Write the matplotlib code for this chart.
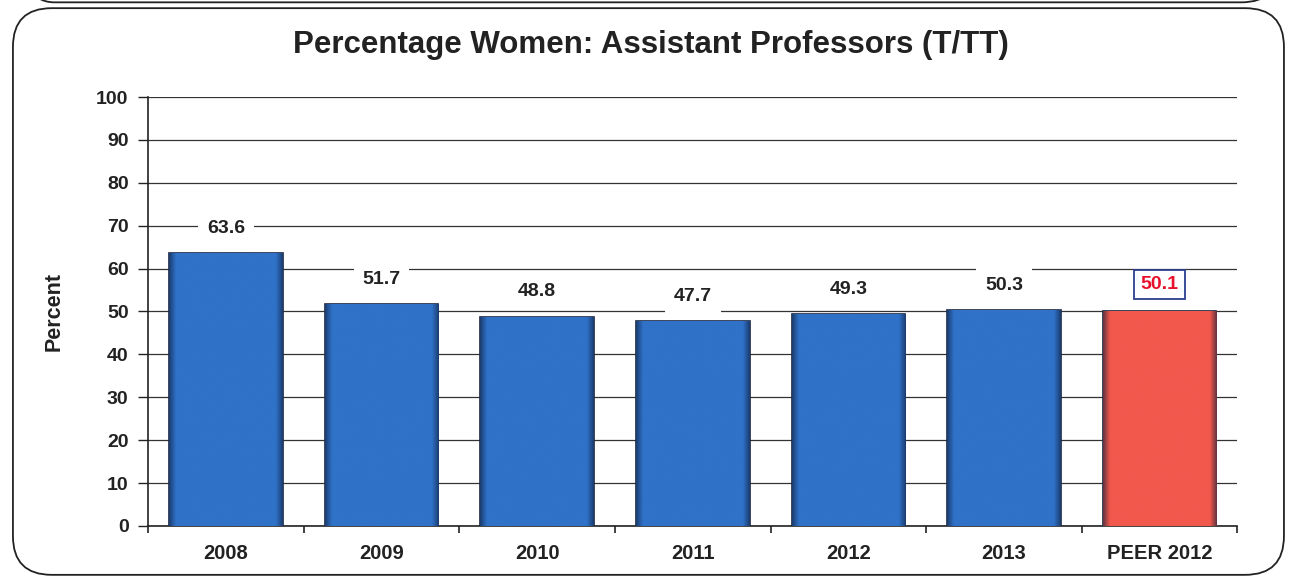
import matplotlib
matplotlib.use("Agg")
import matplotlib.pyplot as plt
from matplotlib.patches import FancyBboxPatch
from matplotlib.colors import LinearSegmentedColormap
import numpy as np

categories = ["2008", "2009", "2010", "2011", "2012", "2013", "PEER 2012"]
values = [63.6, 51.7, 48.8, 47.7, 49.3, 50.3, 50.1]
colors = ["#2F72C8"] * 6 + ["#F2584C"]
yticks = [0, 10, 20, 30, 40, 50, 60, 70, 80, 90, 100]

plt.rcParams['font.family'] = ['Liberation Sans', 'DejaVu Sans']

fig = plt.figure(figsize=(12.93, 5.83), dpi=100)
ax = fig.add_axes([0.1145, 0.0978, 0.8425, 0.7358])

# rounded frame
frame = FancyBboxPatch((0.010, 0.014), 0.983, 0.972, boxstyle="round,pad=0,rounding_size=0.03",
                       transform=fig.transFigure, fill=False, edgecolor="#222222", linewidth=1.3,
                       mutation_aspect=1293/583)
fig.patches.append(frame)
top_frame = FancyBboxPatch((0.012, 0.996), 0.978, 0.2, boxstyle="round,pad=0,rounding_size=0.03",
                           transform=fig.transFigure, fill=False, edgecolor="#222222", linewidth=1.3,
                           mutation_aspect=1293/583, clip_on=False)
fig.patches.append(top_frame)

x = np.arange(len(categories))
ax.set_axisbelow(True)
ax.yaxis.grid(True, color="#333333", linewidth=0.9)
bars = ax.bar(x, values, width=0.73, color=colors, edgecolor="#1a2540", linewidth=1.2, zorder=3)

# bevel-like shading inside each bar
grad = np.linspace(0, 1, 200)
prof = np.clip(np.minimum(grad, 1 - grad) / 0.06, 0, 1)
for b, c in zip(bars, colors):
    cmap = LinearSegmentedColormap.from_list("s", ["#0f1e3a", c])
    x0, y0 = b.get_x(), b.get_y()
    w, h = b.get_width(), b.get_height()
    im = ax.imshow(prof[np.newaxis, :] * np.ones((2, 1)), cmap=cmap, vmin=-0.6, vmax=1,
                   extent=(x0, x0 + w, y0, y0 + h), aspect="auto", zorder=3.5, interpolation="bilinear")
    im.set_clip_path(b)

for i, (xi, v) in enumerate(zip(x, values)):
    if i == len(values) - 1:
        ax.annotate(f"{v:.1f}", (xi, v), xytext=(0, 19), textcoords="offset points",
                    ha="center", va="center", fontsize=14, fontweight="bold", color="#E8102A", zorder=5,
                    bbox=dict(boxstyle="square,pad=0.32", facecolor="white", edgecolor="#2A3F8F", linewidth=1.3))
    else:
        ax.annotate(f"{v:.1f}", (xi, v), xytext=(0, 18), textcoords="offset points",
                    ha="center", va="center", fontsize=14, fontweight="bold", color="#222222", zorder=5,
                    bbox=dict(boxstyle="square,pad=0.45", facecolor="white", edgecolor="none"))

ax.set_xlim(-0.5, len(categories) - 0.5)
ax.set_ylim(0, 100)
ax.set_yticks(yticks)
ax.set_yticklabels([str(t) for t in yticks], fontsize=14, fontweight="bold", color="#222222")
ax.set_xticks(x)
ax.set_xticklabels(categories, fontsize=14.5, fontweight="bold", color="#222222")
ax.tick_params(axis="x", which="major", length=0, pad=13)
ax.set_xticks(np.arange(-0.5, len(categories), 1.0), minor=True)
ax.tick_params(axis="x", which="minor", length=5, width=1.2, direction="out", color="#222222")
ax.tick_params(axis="y", length=7, width=1.0, direction="out", color="#222222", pad=7)

for s in ["top", "right"]:
    ax.spines[s].set_visible(False)
ax.spines["left"].set_color("#222222")
ax.spines["bottom"].set_color("#222222")
ax.spines["left"].set_linewidth(1.2)
ax.spines["bottom"].set_linewidth(1.2)

ax.set_ylabel("Percent", fontsize=15.5, fontweight="bold", color="#222222", labelpad=23)
fig.text(0.503, 0.922, "Percentage Women: Assistant Professors (T/TT)", ha="center", va="center",
         fontsize=22.5, fontweight="bold", color="#222222")

fig.savefig("out.png", dpi=100)
